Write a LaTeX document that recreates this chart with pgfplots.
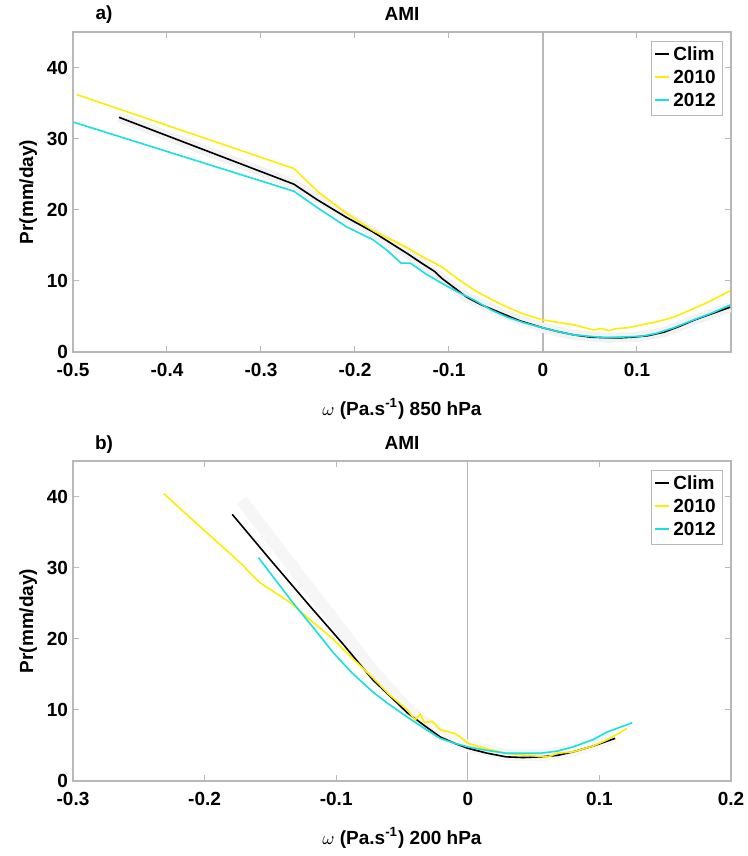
\documentclass[border=0pt]{standalone}
\usepackage{fontspec}
\setmainfont{Liberation Sans}
\usepackage{pgfplots}
\pgfplotsset{compat=1.18}
\definecolor{myyel}{rgb}{1,0.93,0}
\definecolor{mycyan}{rgb}{0.1,0.88,0.88}
\definecolor{boxgray}{rgb}{0.72,0.72,0.72}
\pgfplotsset{
  mystyle/.style={
    scale only axis, width=329pt, height=160pt,
    ymin=0, ymax=45, ytick={0,10,20,30,40},
    axis line style={boxgray, line width=0.6pt},
    tick style={boxgray, line width=0.5pt},
    tick align=inside, major tick length=3pt,
    extra x ticks={0}, extra x tick labels={},
    extra x tick style={grid=major, major grid style={boxgray, line width=0.6pt}},
    /pgf/number format/assume math mode=true,
    ticklabel style={font=\fontsize{9.5}{11}\selectfont\bfseries},
    label style={font=\fontsize{9.5}{11}\selectfont\bfseries},
    ylabel={Pr(mm/day)},
    ylabel style={yshift=-2pt},
    xlabel style={yshift=-4pt},
    title style={font=\fontsize{9.5}{11}\selectfont\bfseries, yshift=-4pt},
    title={AMI},
    xticklabel style={yshift=-2pt},
    yticklabel style={xshift=1pt},
    every axis plot/.append style={line width=0.8pt},
  },
}
\begin{document}
\begin{tikzpicture}
\useasboundingbox (0,0) rectangle (374pt,-428pt);
\begin{axis}[mystyle, at={(36.5pt,-176pt)}, anchor=south west,
  xmin=-0.5, xmax=0.2, xtick={-0.5,-0.4,-0.3,-0.2,-0.1,0,0.1},
  xticklabels={-0.5,-0.4,-0.3,-0.2,-0.1,0,0.1},
  xlabel={$\omega$ (Pa.s\textsuperscript{-1}) 850 hPa}]
\addplot[gray!10, line width=5pt, forget plot] coordinates {
(-0.451,33.0) (-0.265,23.6) (-0.181,16.9) (-0.145,13.9) (-0.108,10.4) (-0.081,7.7) (-0.045,5.5) (0,3.4) (0.033,2.4) (0.068,2.0) (0.097,2.1) (0.129,2.8) (0.161,4.5) (0.199,6.3)};
\addplot[black, forget plot] coordinates {
(-0.451,33.0) (-0.265,23.6) (-0.240,21.4) (-0.210,19.0) (-0.181,16.9) (-0.163,15.4) (-0.145,13.9) (-0.128,12.4) (-0.115,11.3) (-0.108,10.4) (-0.095,9.1) (-0.081,7.7) (-0.065,6.6) (-0.045,5.5) (-0.025,4.4) (0,3.4) (0.015,2.9) (0.033,2.4) (0.050,2.1) (0.068,2.0) (0.083,2.0) (0.097,2.1) (0.112,2.3) (0.129,2.8) (0.145,3.6) (0.161,4.5) (0.180,5.4) (0.199,6.3)};
\addplot[myyel, forget plot] coordinates {
(-0.496,36.2) (-0.265,25.8) (-0.240,22.6) (-0.210,19.6) (-0.181,17.1) (-0.163,15.9) (-0.145,14.7) (-0.127,13.3) (-0.108,12.0) (-0.090,10.2) (-0.073,8.7) (-0.055,7.4) (-0.038,6.3) (-0.020,5.3) (0,4.5) (0.015,4.2) (0.033,3.8) (0.045,3.4) (0.054,3.1) (0.062,3.3) (0.070,3.0) (0.078,3.3) (0.090,3.4) (0.104,3.8) (0.120,4.2) (0.139,4.9) (0.155,5.8) (0.174,6.9) (0.199,8.6)};
\addplot[mycyan, forget plot] coordinates {
(-0.499,32.3) (-0.272,22.9) (-0.265,22.6) (-0.240,20.3) (-0.209,17.6) (-0.181,15.8) (-0.165,14.2) (-0.151,12.5) (-0.141,12.5) (-0.125,11.0) (-0.108,9.7) (-0.090,8.4) (-0.073,7.3) (-0.055,5.9) (-0.038,4.9) (-0.020,4.1) (0,3.4) (0.015,2.9) (0.033,2.4) (0.050,2.2) (0.068,2.0) (0.083,2.1) (0.104,2.2) (0.120,2.6) (0.139,3.4) (0.160,4.5) (0.180,5.5) (0.199,6.6)};
\end{axis}
% legend of panel a
\draw[boxgray, line width=0.4pt, fill=white] (325.5pt,-20.5pt) rectangle (361pt,-57.5pt);
\draw[black, line width=0.8pt] (327.5pt,-27pt) -- (334.5pt,-27pt);
\draw[myyel, line width=0.8pt] (327.5pt,-38.5pt) -- (334.5pt,-38.5pt);
\draw[mycyan, line width=0.8pt] (327.5pt,-50pt) -- (334.5pt,-50pt);
\begin{scope}[every node/.style={anchor=west, inner sep=0pt, font=\fontsize{9.5}{11}\selectfont\bfseries}]
\node at (336.5pt,-27pt) {Clim};
\node at (336.5pt,-38.5pt) {2010};
\node at (336.5pt,-50pt) {2012};
\end{scope}
\node[font=\fontsize{9.5}{11}\selectfont\bfseries] at (52pt,-7.5pt) {a)};
\begin{axis}[mystyle, at={(36.5pt,-390.5pt)}, anchor=south west,
  xmin=-0.3, xmax=0.2, xtick={-0.3,-0.2,-0.1,0,0.1,0.2},
  xticklabels={-0.3,-0.2,-0.1,0,0.1,0.2},
  xlabel={$\omega$ (Pa.s\textsuperscript{-1}) 200 hPa}]
\addplot[gray!7, line width=6pt, forget plot] coordinates {
(-0.172,39.5) (-0.072,15.5) (-0.046,10.2) (-0.021,6.6) (0,4.9) (0.029,3.7) (0.055,3.6) (0.080,4.3) (0.112,6.2)};
\addplot[black, forget plot] coordinates {
(-0.179,37.5) (-0.150,31.1) (-0.120,24.6) (-0.095,19.3) (-0.072,14.2) (-0.060,12.1) (-0.046,9.6) (-0.033,7.8) (-0.021,6.2) (-0.010,5.3) (0,4.6) (0.015,3.9) (0.029,3.4) (0.042,3.3) (0.055,3.4) (0.068,3.6) (0.080,4.1) (0.095,4.9) (0.112,6.0)};
\addplot[myyel, forget plot] coordinates {
(-0.231,40.4) (-0.200,35.2) (-0.173,30.7) (-0.158,27.9) (-0.135,25.1) (-0.118,22.4) (-0.102,19.9) (-0.089,17.5) (-0.072,14.5) (-0.060,12.2) (-0.046,10.0) (-0.040,8.6) (-0.036,9.4) (-0.033,8.2) (-0.027,8.4) (-0.021,7.2) (-0.010,6.7) (-0.005,6.1) (0,5.3) (0.015,4.5) (0.029,3.9) (0.045,3.6) (0.061,3.4) (0.068,3.9) (0.080,4.1) (0.095,4.9) (0.106,5.8) (0.121,7.4)};
\addplot[mycyan, forget plot] coordinates {
(-0.159,31.4) (-0.145,28.0) (-0.133,25.1) (-0.118,21.7) (-0.102,18.0) (-0.088,15.2) (-0.072,12.5) (-0.060,10.8) (-0.046,9.0) (-0.033,7.4) (-0.021,6.0) (-0.010,5.3) (0,4.8) (0.015,4.3) (0.029,3.9) (0.042,3.9) (0.055,3.9) (0.068,4.2) (0.080,4.8) (0.095,5.8) (0.106,6.9) (0.125,8.2)};
\end{axis}
% legend of panel b
\draw[boxgray, line width=0.4pt, fill=white] (325.5pt,-235pt) rectangle (361pt,-272pt);
\draw[black, line width=0.8pt] (327.5pt,-241.5pt) -- (334.5pt,-241.5pt);
\draw[myyel, line width=0.8pt] (327.5pt,-253pt) -- (334.5pt,-253pt);
\draw[mycyan, line width=0.8pt] (327.5pt,-264.5pt) -- (334.5pt,-264.5pt);
\begin{scope}[every node/.style={anchor=west, inner sep=0pt, font=\fontsize{9.5}{11}\selectfont\bfseries}]
\node at (336.5pt,-241.5pt) {Clim};
\node at (336.5pt,-253pt) {2010};
\node at (336.5pt,-264.5pt) {2012};
\end{scope}
\node[font=\fontsize{9.5}{11}\selectfont\bfseries] at (52pt,-222.5pt) {b)};
\end{tikzpicture}
\end{document}
